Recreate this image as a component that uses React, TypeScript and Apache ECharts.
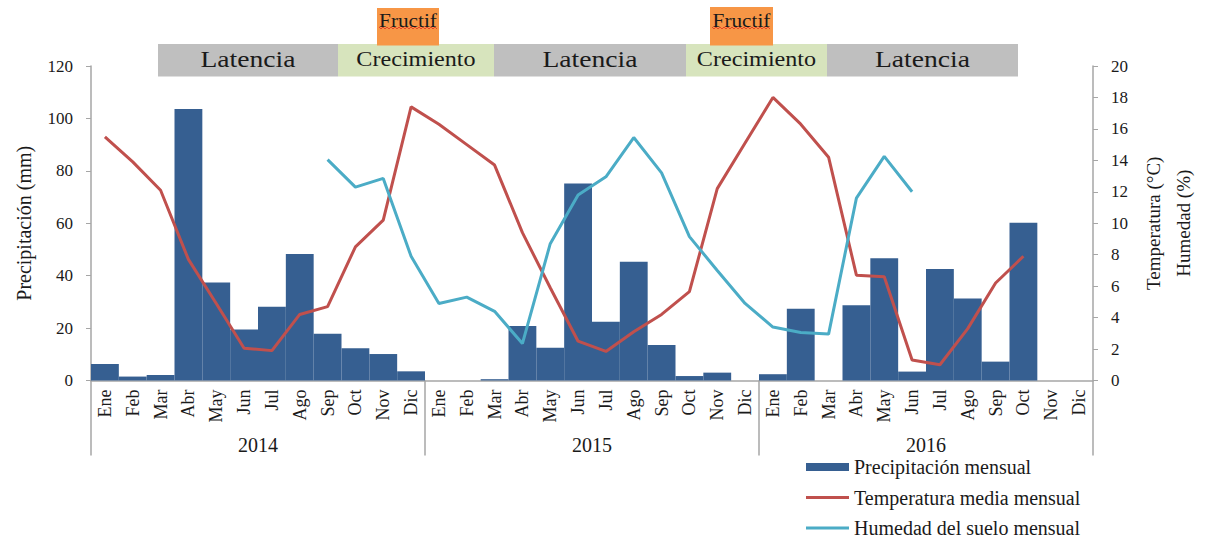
import React, { useEffect, useRef } from "react";
import * as echarts from "echarts";

const months = ["Ene", "Feb", "Mar", "Abr", "May", "Jun", "Jul", "Ago", "Sep", "Oct", "Nov", "Dic"];
const years = ["2014", "2015", "2016"];
const categories = years.flatMap((y) => months.map((m) => `${m}-${y}`));

const precip2014 = [6.3, 1.5, 2.1, 103.6, 37.4, 19.5, 28.1, 48.3, 17.8, 12.3, 10.1, 3.5];
const precip2015 = [0, 0, 0.5, 20.8, 12.5, 75.2, 22.4, 45.3, 13.5, 1.7, 3.0, 0];
const precip2016 = [2.4, 27.4, 0, 28.7, 46.6, 3.4, 42.5, 31.3, 7.2, 60.2, 0, 0];

const temp2014 = [15.5, 13.9, 12.1, 7.7, 4.9, 2.05, 1.9, 4.2, 4.7, 8.5, 10.2, 17.4];
const temp2015 = [16.3, 15.0, 13.7, 9.4, 5.9, 2.5, 1.85, 3.1, 4.2, 5.65, 12.2, 15.1];
const temp2016 = [18.0, 16.3, 14.2, 6.7, 6.6, 1.3, 1.0, 3.3, 6.2, 7.9, null, null];

const hum2014 = [null, null, null, null, null, null, null, null, 14.05, 12.3, 12.85, 7.9];
const hum2015 = [4.9, 5.3, 4.4, 2.35, 8.7, 11.8, 12.95, 15.45, 13.2, 9.15, 7.0, 4.9];
const hum2016 = [3.4, 3.05, 2.95, 11.6, 14.25, 12.0, null, null, null, null, null, null];

const precipitation = [...precip2014, ...precip2015, ...precip2016];
const temperature = [...temp2014, ...temp2015, ...temp2016];
const humidity = [...hum2014, ...hum2015, ...hum2016];

const leftTicks = { min: 0, max: 120, interval: 20 };
const rightTicks = { min: 0, max: 20, interval: 2 };

const phaseBoxes = [
  { label: "Latencia", x0: 158, x1: 338, fill: "#BFBFBF", size: 24 },
  { label: "Crecimiento", x0: 338, x1: 494, fill: "#D7E4BD", size: 21 },
  { label: "Latencia", x0: 494, x1: 686, fill: "#BFBFBF", size: 24 },
  { label: "Crecimiento", x0: 686, x1: 827, fill: "#D7E4BD", size: 21 },
  { label: "Latencia", x0: 827, x1: 1018, fill: "#BFBFBF", size: 24 },
];
const fructBoxes = [
  { label: "Fructif", x0: 377, x1: 439, y0: 8 },
  { label: "Fructif", x0: 710, x1: 773, y0: 7 },
];

const SERIF = '"Liberation Serif", "Times New Roman", serif';
const BLUE = "#365F91";
const RED = "#C0504D";
const CYAN = "#4BACC6";
const AXIS = "#A6A6A6";
const TXT = "#1a1a1a";
const LINE_ICON = "path://M0,0H43V3H0Z";

function textEl(label: string, cx: number, cy: number, size: number, sx: number) {
  return {
    type: "text",
    x: cx,
    y: cy,
    scaleX: sx,
    z: 10,
    style: {
      text: label,
      font: `${size}px ${SERIF}`,
      fill: TXT,
      align: "center",
      verticalAlign: "middle",
      textAlign: "center",
      textVerticalAlign: "middle",
    },
  };
}

function squiggle(x0: number, x1: number, y: number) {
  const pts: number[][] = [];
  let up = true;
  for (let x = x0; x <= x1; x += 2) {
    pts.push([x, up ? y - 1 : y + 1]);
    up = !up;
  }
  return {
    type: "polyline",
    z: 11,
    shape: { points: pts },
    style: { stroke: "#E03020", lineWidth: 0.8, fill: "none" },
  };
}

export default function App() {
  const ref = useRef<HTMLDivElement>(null);
  useEffect(() => {
    if (!ref.current) return;
    const chart = echarts.init(ref.current, undefined, { renderer: "svg" });

    const graphics: any[] = [];
    phaseBoxes.forEach((b) => {
      graphics.push({
        type: "rect",
        z: 5,
        shape: { x: b.x0, y: 44, width: b.x1 - b.x0, height: 32.5 },
        style: { fill: b.fill },
      });
      graphics.push(textEl(b.label, (b.x0 + b.x1) / 2, 59, b.size, 1.15));
    });
    fructBoxes.forEach((b) => {
      graphics.push({
        type: "rect",
        z: 6,
        shape: { x: b.x0, y: b.y0, width: b.x1 - b.x0, height: 45.5 - b.y0 },
        style: { fill: "#F79646" },
      });
      graphics.push(textEl(b.label, (b.x0 + b.x1) / 2, 20, 19, 1.12));
      graphics.push(squiggle(b.x0 + 2, b.x1 - 2, 28));
    });

    chart.setOption({
      animation: false,
      backgroundColor: "#ffffff",
      textStyle: { fontFamily: SERIF },
      grid: { left: 91, right: 116, top: 66, bottom: 159.5, containLabel: false },
      legend: {
        orient: "vertical",
        left: 806,
        top: 457,
        height: 83,
        padding: 0,
        itemWidth: 43,
        itemHeight: 8,
        itemGap: 10.5,
        textStyle: { fontFamily: SERIF, fontSize: 20, color: TXT, lineHeight: 20 },
        data: [
          { name: "Precipitación mensual", icon: "rect" },
          { name: "Temperatura media mensual", icon: LINE_ICON, symbolKeepAspect: true },
          { name: "Humedad del suelo mensual", icon: LINE_ICON, symbolKeepAspect: true },
        ],
      },
      xAxis: [
        {
          type: "category",
          data: categories,
          position: "bottom",
          boundaryGap: true,
          axisLine: { show: true, lineStyle: { color: AXIS, width: 1.5 } },
          axisTick: { show: false },
          axisLabel: {
            interval: 0,
            rotate: 90,
            margin: 9,
            fontFamily: SERIF,
            fontSize: 18,
            color: TXT,
            formatter: (v: string) => v.split("-")[0],
          },
          splitLine: { show: false },
        },
        {
          type: "category",
          data: years,
          position: "bottom",
          boundaryGap: true,
          axisLine: { show: false },
          axisTick: { show: true, length: 75, lineStyle: { color: AXIS, width: 1.5 } },
          axisLabel: { margin: 54, fontFamily: SERIF, fontSize: 20, color: TXT },
          splitLine: { show: false },
        },
      ],
      yAxis: [
        {
          type: "value",
          position: "left",
          ...leftTicks,
          name: "Precipitación (mm)",
          nameLocation: "middle",
          nameGap: 57,
          nameTextStyle: { fontFamily: SERIF, fontSize: 20, color: TXT },
          axisLine: { show: true, lineStyle: { color: AXIS, width: 1.5 } },
          axisTick: { show: true, length: 5, lineStyle: { color: AXIS } },
          axisLabel: { margin: 18, fontFamily: SERIF, fontSize: 17, color: TXT },
          splitLine: { show: false },
        },
        {
          type: "value",
          position: "right",
          ...rightTicks,
          name: "Temperatura (°C)\nHumedad (%)",
          nameLocation: "middle",
          nameGap: 44,
          nameTextStyle: { fontFamily: SERIF, fontSize: 19, color: TXT, lineHeight: 30 },
          axisLine: { show: true, lineStyle: { color: AXIS, width: 1.5 } },
          axisTick: { show: true, length: 5, lineStyle: { color: AXIS } },
          axisLabel: { margin: 18, fontFamily: SERIF, fontSize: 17, color: TXT },
          splitLine: { show: false },
        },
      ],
      series: [
        {
          name: "Precipitación mensual",
          type: "bar",
          xAxisIndex: 0,
          yAxisIndex: 0,
          data: precipitation,
          barWidth: "100%",
          barCategoryGap: 0,
          itemStyle: { color: BLUE },
        },
        {
          name: "Temperatura media mensual",
          type: "line",
          xAxisIndex: 0,
          yAxisIndex: 1,
          data: temperature,
          symbol: "none",
          showSymbol: false,
          connectNulls: false,
          lineStyle: { color: RED, width: 3 },
          itemStyle: { color: RED },
        },
        {
          name: "Humedad del suelo mensual",
          type: "line",
          xAxisIndex: 0,
          yAxisIndex: 1,
          data: humidity,
          symbol: "none",
          showSymbol: false,
          connectNulls: false,
          lineStyle: { color: CYAN, width: 3 },
          itemStyle: { color: CYAN },
        },
      ],
      graphic: graphics,
    });
    return () => chart.dispose();
  }, []);

  return (
    <div
      ref={ref}
      style={{ position: "fixed", left: 0, top: 0, width: 1209, height: 540, background: "#fff" }}
    />
  );
}
